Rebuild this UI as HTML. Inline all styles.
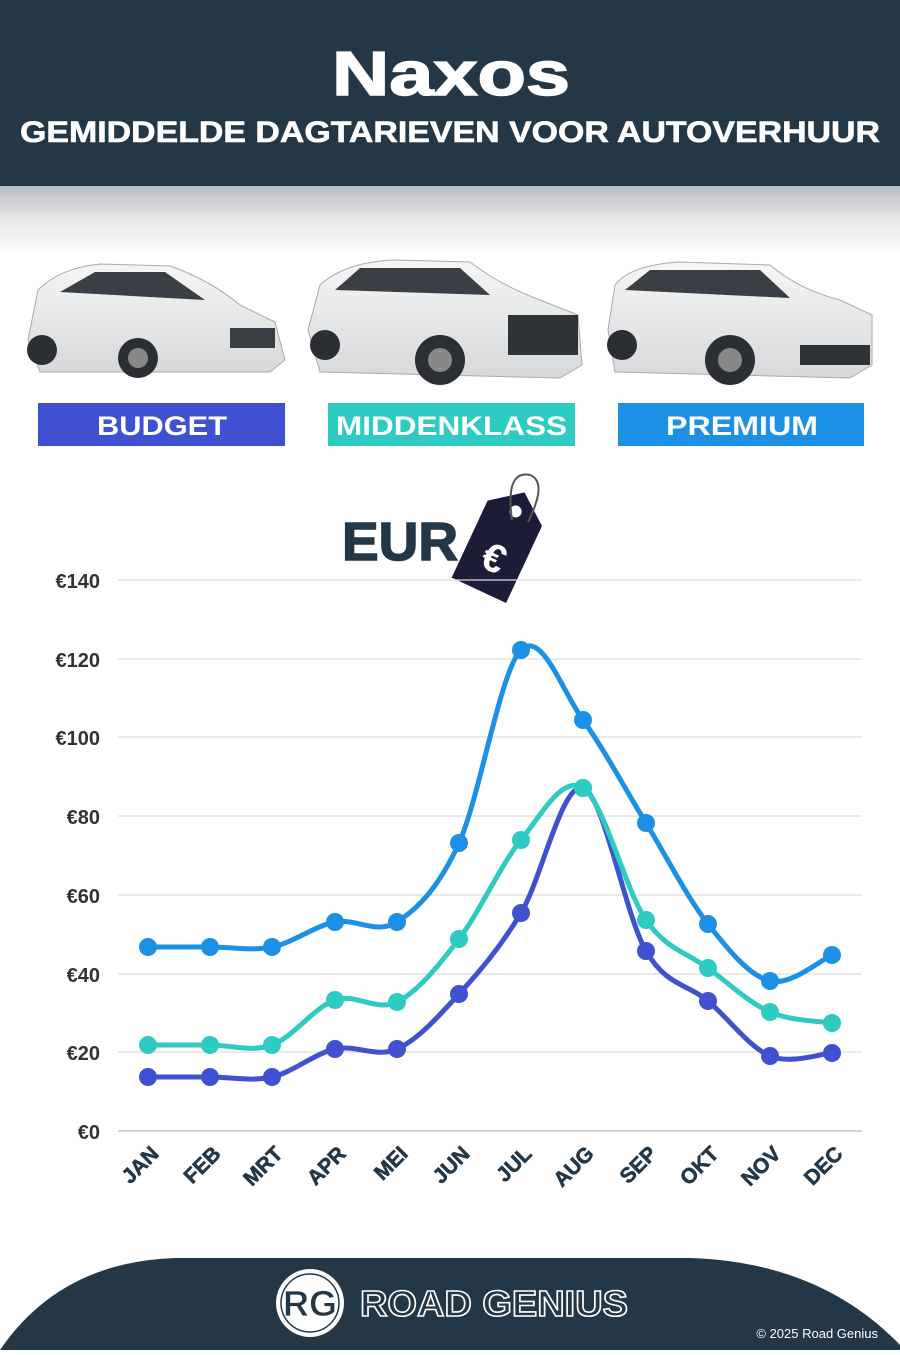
<!DOCTYPE html>
<html><head><meta charset="utf-8"><style>
body{margin:0;width:900px;height:1350px;overflow:hidden;background:#fff;font-family:"Liberation Sans",sans-serif}
</style></head><body>
<svg width="900" height="1350" viewBox="0 0 900 1350" xmlns="http://www.w3.org/2000/svg" font-family="Liberation Sans, sans-serif">
<defs>
<linearGradient id="sh" x1="0" y1="0" x2="0" y2="1"><stop offset="0" stop-color="#b9bcbf"/><stop offset="0.5" stop-color="#e8e9ea"/><stop offset="1" stop-color="#fff"/></linearGradient>
<linearGradient id="body" x1="0" y1="0" x2="0" y2="1"><stop offset="0" stop-color="#f6f6f6"/><stop offset="1" stop-color="#d6d8da"/></linearGradient>
</defs>
<rect x="0" y="0" width="900" height="188" fill="#233746"/>
<rect x="0" y="186" width="900" height="70" fill="url(#sh)"/>
<text x="332" y="95" textLength="238" lengthAdjust="spacingAndGlyphs" font-size="62" font-weight="bold" fill="#fff" stroke="#fff" stroke-width="1.5">Naxos</text>
<text x="20" y="142" textLength="860" lengthAdjust="spacingAndGlyphs" font-size="30" font-weight="bold" fill="#fff" stroke="#fff" stroke-width="0.6">GEMIDDELDE DAGTARIEVEN VOOR AUTOVERHUUR</text>

<g>
<path d="M28 340 L38 290 Q60 268 100 264 L170 266 Q210 280 240 305 L275 322 L285 360 L270 372 L40 372 Z" fill="url(#body)" stroke="#aaa" stroke-width="1"/>
<path d="M60 292 L95 272 L165 272 L205 300 Z" fill="#3a3f45"/>
<circle cx="138" cy="358" r="20" fill="#2b2f33"/><circle cx="138" cy="358" r="10" fill="#888"/>
<circle cx="42" cy="350" r="15" fill="#2b2f33"/>
<rect x="230" y="328" width="45" height="20" fill="#3a3f45"/>
</g>
<g>
<path d="M308 330 L320 285 Q345 262 395 260 L470 262 Q500 285 540 300 L578 315 L582 365 L560 378 L320 372 Z" fill="url(#body)" stroke="#aaa"/>
<path d="M335 290 L360 268 L460 268 L490 295 Z" fill="#3a3f45"/>
<rect x="508" y="315" width="70" height="40" fill="#2e3338"/>
<circle cx="440" cy="360" r="25" fill="#2b2f33"/><circle cx="440" cy="360" r="12" fill="#888"/>
<circle cx="325" cy="345" r="15" fill="#2b2f33"/>
</g>
<g>
<path d="M608 330 L615 285 Q630 265 680 262 L770 265 Q800 290 840 300 L872 315 L872 365 L850 378 L615 372 Z" fill="url(#body)" stroke="#aaa"/>
<path d="M625 290 L650 270 L760 270 L790 298 Z" fill="#3a3f45"/>
<rect x="800" y="345" width="70" height="20" fill="#2e3338"/>
<circle cx="730" cy="360" r="25" fill="#2b2f33"/><circle cx="730" cy="360" r="12" fill="#888"/>
<circle cx="622" cy="345" r="15" fill="#2b2f33"/>
</g>

<rect x="38" y="403" width="247" height="43" fill="#3f51d0"/>
<text x="97" y="435" textLength="130" lengthAdjust="spacingAndGlyphs" font-size="27" font-weight="bold" fill="#fff">BUDGET</text>
<rect x="328" y="403" width="247" height="43" fill="#2ecbc2"/>
<text x="336" y="435" textLength="231" lengthAdjust="spacingAndGlyphs" font-size="27" font-weight="bold" fill="#fff">MIDDENKLASS</text>
<rect x="618" y="403" width="246" height="43" fill="#1b90e4"/>
<text x="666" y="435" textLength="152" lengthAdjust="spacingAndGlyphs" font-size="27" font-weight="bold" fill="#fff">PREMIUM</text>

<text x="342" y="560" textLength="116" lengthAdjust="spacingAndGlyphs" font-size="54" font-weight="bold" fill="#233746" stroke="#233746" stroke-width="1.5">EUR</text>
<g transform="translate(500,545) rotate(25)">
<path d="M-30 -35 L0 -58 L30 -35 L30 50 L-30 50 Z" fill="#1c1c38"/>
<circle cx="0" cy="-37" r="6" fill="#fff"/>
<text x="0" y="28" text-anchor="middle" font-size="40" font-weight="bold" fill="#fff">€</text>
</g>
<path d="M512 520 Q505 470 530 475 Q548 482 528 522" fill="none" stroke="#555" stroke-width="2"/>

<g stroke="#ddd" stroke-width="1.2">
<line x1="118" x2="862" y1="580" y2="580"/><line x1="118" x2="862" y1="659" y2="659"/>
<line x1="118" x2="862" y1="737" y2="737"/><line x1="118" x2="862" y1="816" y2="816"/>
<line x1="118" x2="862" y1="895" y2="895"/><line x1="118" x2="862" y1="974" y2="974"/>
<line x1="118" x2="862" y1="1052" y2="1052"/><line x1="118" x2="862" y1="1131" y2="1131" stroke="#bbb"/>
</g>
<g font-size="20" font-weight="bold" fill="#333" text-anchor="end">
<text x="100" y="588">€140</text><text x="100" y="667">€120</text><text x="100" y="745">€100</text>
<text x="100" y="824">€80</text><text x="100" y="903">€60</text><text x="100" y="982">€40</text>
<text x="100" y="1060">€20</text><text x="100" y="1139">€0</text>
</g>
<g id="xl" font-size="21" font-weight="bold" fill="#233746" stroke="#233746" stroke-width="0.6" text-anchor="end"></g>
<g id="series"></g>

<path d="M0 1350 Q60 1262 175 1258 L690 1258 Q820 1262 900 1345 L900 1350 Z" fill="#233746"/>
<circle cx="310" cy="1303" r="34" fill="#fff"/>
<circle cx="310" cy="1303" r="29" fill="none" stroke="#233746" stroke-width="1.5"/>
<text x="310" y="1316" text-anchor="middle" font-size="36" font-weight="bold" fill="#233746" stroke="#fff" stroke-width="0.8">RG</text>
<text x="360" y="1316" textLength="268" lengthAdjust="spacingAndGlyphs" font-size="36" font-weight="bold" fill="none" stroke="#fff" stroke-width="1.6">ROAD GENIUS</text>
<text x="878" y="1338" text-anchor="end" font-size="13" fill="#fff">© 2025 Road Genius</text>
</svg>
<script>
var xs=[148,210,272,335,397,459,521,583,646,708,770,832];
var mon=["JAN","FEB","MRT","APR","MEI","JUN","JUL","AUG","SEP","OKT","NOV","DEC"];
var NS="http://www.w3.org/2000/svg";
var xl=document.getElementById("xl");
mon.forEach(function(m,i){var t=document.createElementNS(NS,"text");t.setAttribute("transform","translate("+(xs[i]+12)+",1155) rotate(-45)");t.textContent=m;xl.appendChild(t);});
var S=[
["#1b90e4",[947,947,947,922,922,843,650,720,823,924,981,955]],
["#2ecbc2",[1045,1045,1045,1000,1002,939,840,788,920,968,1012,1023]],
["#3f51d0",[1077,1077,1077,1049,1049,994,913,788,951,1001,1056,1053]]];
var g=document.getElementById("series");
S.slice().reverse().forEach(function(s){
 var y=s[1],d="M"+xs[0]+" "+y[0];
 for(var i=0;i<11;i++){
  var p0=i?i-1:0,p3=i<10?i+2:11;
  var c1x=xs[i]+(xs[i+1]-xs[p0])/6,c1y=y[i]+(y[i+1]-y[p0])/6;
  var c2x=xs[i+1]-(xs[p3]-xs[i])/6,c2y=y[i+1]-(y[p3]-y[i])/6;
  d+=" C"+c1x+" "+c1y+" "+c2x+" "+c2y+" "+xs[i+1]+" "+y[i+1];
 }
 var p=document.createElementNS(NS,"path");p.setAttribute("d",d);p.setAttribute("fill","none");p.setAttribute("stroke",s[0]);p.setAttribute("stroke-width","5");g.appendChild(p);
 y.forEach(function(v,i){var c=document.createElementNS(NS,"circle");c.setAttribute("cx",xs[i]);c.setAttribute("cy",v);c.setAttribute("r","9");c.setAttribute("fill",s[0]);g.appendChild(c);});
});
</script>
</body></html>
